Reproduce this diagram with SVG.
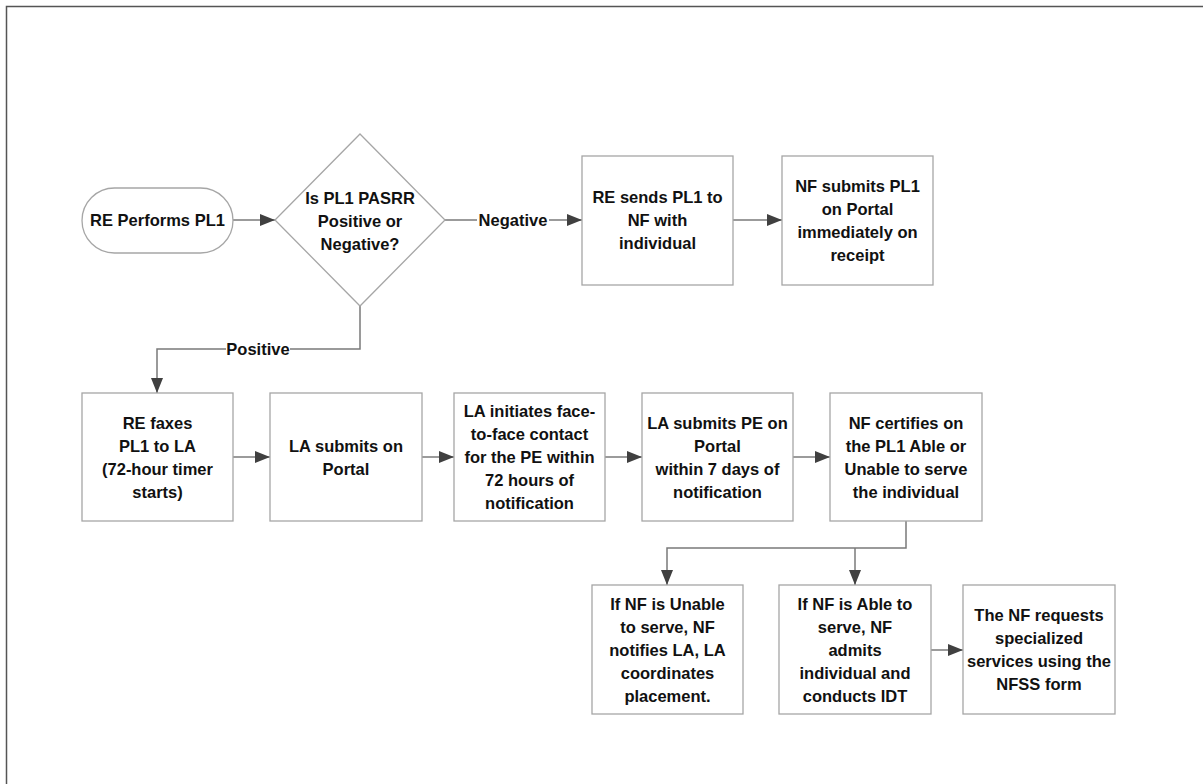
<svg xmlns="http://www.w3.org/2000/svg" width="1203" height="784" viewBox="0 0 1203 784">
<defs>
<style>
.box{fill:#fff;stroke:#a6a6a6;stroke-width:1.3}
.t{font-family:"Liberation Sans",Arial,sans-serif;font-weight:bold;font-size:16.5px;fill:#111;text-anchor:middle}
.c{fill:none;stroke:#7a7a7a;stroke-width:1.5}
.lbl{fill:#fff}
</style>
<marker id="ah" viewBox="0 0 15 12" refX="15" refY="6" markerWidth="15" markerHeight="12" markerUnits="userSpaceOnUse" orient="auto">
<path d="M0,0 L15,6 L0,12 z" fill="#404040"/>
</marker>
</defs>
<rect x="0" y="0" width="1203" height="784" fill="#fff"/>
<path d="M6.5,784 V6.5 H1203" fill="none" stroke="#555" stroke-width="1.5"/>

<g id="connectors">
<path class="c" d="M233,220 H275" marker-end="url(#ah)"/>
<path class="c" d="M445,220 H582" marker-end="url(#ah)"/>
<path class="c" d="M733,220 H782" marker-end="url(#ah)"/>
<path class="c" d="M360,306 V349 H157 V393" marker-end="url(#ah)"/>
<path class="c" d="M233,457 H270" marker-end="url(#ah)"/>
<path class="c" d="M422,457 H454" marker-end="url(#ah)"/>
<path class="c" d="M605,457 H642" marker-end="url(#ah)"/>
<path class="c" d="M793,457 H830" marker-end="url(#ah)"/>
<path class="c" d="M906,521 V548 H667 V585" marker-end="url(#ah)"/>
<path class="c" d="M855,548 V585" marker-end="url(#ah)"/>
<path class="c" d="M931,650 H963" marker-end="url(#ah)"/>
<rect class="lbl" x="477" y="210" width="72" height="20"/>
<text class="t" x="513" y="226">Negative</text>
<rect class="lbl" x="226" y="339" width="64" height="20"/>
<text class="t" x="258" y="355">Positive</text>
</g>

<g id="start">
<rect class="box" x="82" y="188" width="151" height="65" rx="32.5"/>
<text class="t" x="157.5" y="226">RE Performs PL1</text>
</g>

<g id="decision">
<path class="box" d="M360,134 L445,220 L360,306 L275,220 Z"/>
<text class="t" x="360" y="204">Is PL1 PASRR</text>
<text class="t" x="360" y="227">Positive or</text>
<text class="t" x="360" y="250">Negative?</text>
</g>

<g id="re-sends">
<rect class="box" x="582" y="156" width="151" height="129"/>
<text class="t" x="657.5" y="203">RE sends PL1 to</text>
<text class="t" x="657.5" y="226">NF with</text>
<text class="t" x="657.5" y="249">individual</text>
</g>

<g id="nf-submits">
<rect class="box" x="782" y="156" width="151" height="129"/>
<text class="t" x="857.5" y="191.5">NF submits PL1</text>
<text class="t" x="857.5" y="214.5">on Portal</text>
<text class="t" x="857.5" y="237.5">immediately on</text>
<text class="t" x="857.5" y="260.5">receipt</text>
</g>

<g id="re-faxes">
<rect class="box" x="82" y="393" width="151" height="128"/>
<text class="t" x="157.5" y="428.5">RE faxes</text>
<text class="t" x="157.5" y="451.5">PL1 to LA</text>
<text class="t" x="157.5" y="474.5">(72-hour timer</text>
<text class="t" x="157.5" y="497.5">starts)</text>
</g>

<g id="la-submits">
<rect class="box" x="270" y="393" width="152" height="128"/>
<text class="t" x="346" y="451.5">LA submits on</text>
<text class="t" x="346" y="474.5">Portal</text>
</g>

<g id="la-initiates">
<rect class="box" x="454" y="393" width="151" height="128"/>
<text class="t" x="529.5" y="417">LA initiates face-</text>
<text class="t" x="529.5" y="440">to-face contact</text>
<text class="t" x="529.5" y="463">for the PE within</text>
<text class="t" x="529.5" y="486">72 hours of</text>
<text class="t" x="529.5" y="509">notification</text>
</g>

<g id="la-submits-pe">
<rect class="box" x="642" y="393" width="151" height="128"/>
<text class="t" x="717.5" y="428.5">LA submits PE on</text>
<text class="t" x="717.5" y="451.5">Portal</text>
<text class="t" x="717.5" y="474.5">within 7 days of</text>
<text class="t" x="717.5" y="497.5">notification</text>
</g>

<g id="nf-certifies">
<rect class="box" x="830" y="393" width="152" height="128"/>
<text class="t" x="906" y="428.5">NF certifies on</text>
<text class="t" x="906" y="451.5">the PL1 Able or</text>
<text class="t" x="906" y="474.5">Unable to serve</text>
<text class="t" x="906" y="497.5">the individual</text>
</g>

<g id="nf-unable">
<rect class="box" x="592" y="585" width="151" height="129"/>
<text class="t" x="667.5" y="609.5">If NF is Unable</text>
<text class="t" x="667.5" y="632.5">to serve, NF</text>
<text class="t" x="667.5" y="655.5">notifies LA, LA</text>
<text class="t" x="667.5" y="678.5">coordinates</text>
<text class="t" x="667.5" y="701.5">placement.</text>
</g>

<g id="nf-able">
<rect class="box" x="779" y="585" width="152" height="129"/>
<text class="t" x="855" y="609.5">If NF is Able to</text>
<text class="t" x="855" y="632.5">serve, NF</text>
<text class="t" x="855" y="655.5">admits</text>
<text class="t" x="855" y="678.5">individual and</text>
<text class="t" x="855" y="701.5">conducts IDT</text>
</g>

<g id="nfss">
<rect class="box" x="963" y="585" width="152" height="129"/>
<text class="t" x="1039" y="621">The NF requests</text>
<text class="t" x="1039" y="644">specialized</text>
<text class="t" x="1039" y="667">services using the</text>
<text class="t" x="1039" y="690">NFSS form</text>
</g>
</svg>
